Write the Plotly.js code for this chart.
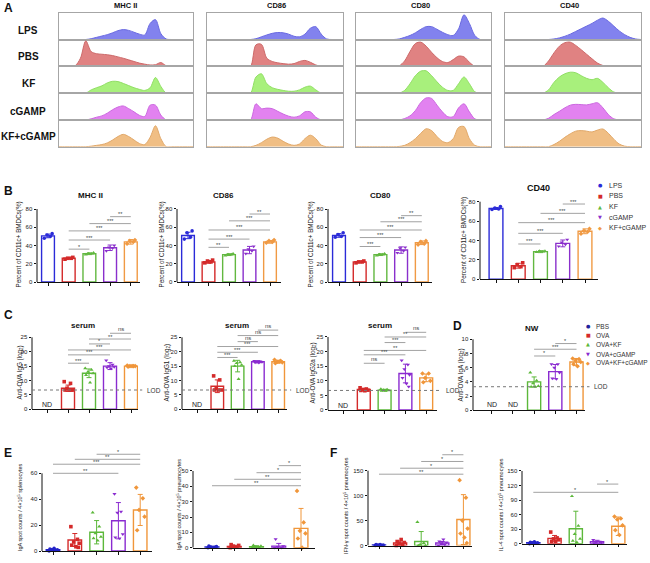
<!DOCTYPE html>
<html><head><meta charset="utf-8">
<script src="https://cdn.plot.ly/plotly-3.0.1.min.js"></script>
<style>html,body{margin:0;padding:0;background:#fff}#chart{width:650px;height:563px}</style>
</head><body><div id="chart"></div>
<script>
const W=650,H=563;
const FONT='Liberation Sans, Arial, sans-serif';

// ===== Panel A: flow histograms (relative heights per bin) =====
const histMarkers=['MHC II','CD86','CD80','CD40'];
const histGroups=['LPS','PBS','KF','cGAMP','KF+cGAMP'];
const histBins=[0,4,8,12,16,20,24,28,32,36,40,44,48,52,56,60,64,68,72,76,80,84,88,92,96,100];
const hMHC_LPS=[0,0,0,0,0,0,0.03,0.08,0.13,0.18,0.25,0.33,0.37,0.34,0.27,0.2,0.17,0.6,0.74,0.22,0.02,0,0,0,0,0];
const hMHC_PBS=[0,0,0,0.02,0.3,0.95,0.55,0.47,0.45,0.43,0.4,0.35,0.3,0.24,0.18,0.12,0.08,0.05,0.06,0.14,0.02,0,0,0,0,0];
const hMHC_KF=[0,0,0,0,0,0,0.12,0.2,0.27,0.38,0.44,0.43,0.36,0.28,0.2,0.14,0.1,0.2,0.58,0.25,0,0,0,0,0,0];
const hMHC_cGAMP=[0,0,0,0,0,0,0.04,0.1,0.15,0.25,0.38,0.48,0.52,0.42,0.3,0.17,0.13,0.55,0.55,0.18,0,0,0,0,0,0];
const hMHC_KFcGAMP=[0,0,0,0,0,0,0.02,0.05,0.08,0.14,0.25,0.38,0.46,0.38,0.25,0.12,0.08,0.35,0.78,0.3,0,0,0,0,0,0];
const hCD86_LPS=[0,0,0,0,0,0,0,0,0,0.03,0.1,0.17,0.23,0.26,0.25,0.2,0.12,0.1,0.2,0.42,0.48,0.2,0.02,0,0,0];
const hCD86_PBS=[0,0,0,0,0,0,0,0,0,0.8,0.82,0.3,0.18,0.13,0.1,0.08,0.1,0.18,0.22,0.15,0.05,0,0,0,0,0];
const hCD86_KF=[0,0,0,0,0,0,0,0,0,0.6,0.72,0.35,0.2,0.14,0.1,0.07,0.07,0.12,0.22,0.26,0.12,0,0,0,0,0];
const hCD86_cGAMP=[0,0,0,0,0,0,0,0,0,0.6,0.42,0.44,0.42,0.32,0.22,0.14,0.1,0.15,0.3,0.3,0.1,0,0,0,0,0];
const hCD86_KFcGAMP=[0,0,0,0,0,0,0,0,0,0.05,0.15,0.28,0.36,0.32,0.2,0.1,0.05,0.1,0.3,0.43,0.3,0.06,0,0,0,0];
const hCD80_LPS=[0,0,0,0,0,0,0,0,0.02,0.08,0.15,0.25,0.38,0.48,0.48,0.38,0.27,0.18,0.15,0.4,0.92,0.6,0.15,0,0,0];
const hCD80_PBS=[0,0,0,0,0,0,0,0,0.02,0.2,0.55,0.85,0.9,0.75,0.52,0.32,0.18,0.14,0.25,0.38,0.35,0.15,0,0,0,0];
const hCD80_KF=[0,0,0,0,0,0,0,0,0,0.1,0.35,0.65,0.82,0.83,0.65,0.42,0.22,0.1,0.1,0.35,0.6,0.35,0.05,0,0,0];
const hCD80_cGAMP=[0,0,0,0,0,0,0,0,0,0.05,0.15,0.35,0.65,0.82,0.8,0.55,0.3,0.12,0.12,0.45,0.6,0.3,0.04,0,0,0];
const hCD80_KFcGAMP=[0,0,0,0,0,0,0,0,0.01,0.05,0.15,0.3,0.5,0.67,0.6,0.38,0.2,0.15,0.3,0.72,0.75,0.3,0.05,0,0,0];
const hCD40_LPS=[0,0,0,0,0,0,0,0,0,0.02,0.06,0.12,0.2,0.3,0.4,0.5,0.6,0.72,0.8,0.68,0.5,0.32,0.18,0.08,0.02,0];
const hCD40_PBS=[0,0,0,0,0,0,0,0,0.2,0.5,0.75,0.88,0.9,0.78,0.62,0.45,0.28,0.12,0.03,0,0,0,0,0,0,0];
const hCD40_KF=[0,0,0,0,0,0,0,0,0.12,0.4,0.6,0.72,0.78,0.76,0.65,0.55,0.5,0.55,0.4,0.2,0.04,0,0,0,0,0];
const hCD40_cGAMP=[0,0,0,0,0,0,0,0,0.06,0.2,0.32,0.45,0.55,0.58,0.57,0.56,0.6,0.64,0.45,0.2,0.04,0,0,0,0,0];
const hCD40_KFcGAMP=[0,0,0,0,0,0,0,0,0,0.08,0.2,0.35,0.48,0.58,0.6,0.58,0.55,0.62,0.66,0.5,0.28,0.1,0.02,0,0,0];

// ===== Panel B: BMDC activation =====
const bGroups=['LPS','PBS','KF','cGAMP','KF+cGAMP'];
const bMHC_mean=[50.5,26,31,37.5,44];
const bMHC_sd=[2,1,1,3,2.5];
const bMHC_pts=[[48,50,51.5,53],[25,26,26,27],[30,31,31,32],[34,37,38,40],[42,44,45,46]];
const bMHC_sig=[[1,2,36,'*'],[1,3,46,'***'],[1,4,56,'***'],[2,4,64,'***'],[3,4,71.6,'**']];
const bCD86_mean=[51,22,30,35,44];
const bCD86_sd=[3.5,1.5,1,4,1.5];
const bCD86_pts=[[47,49,54,56],[21,22,23,24],[29,30,30,31],[31,34,36,39],[43,44,45,46]];
const bCD86_sig=[[1,2,38,'**'],[1,3,47,'***'],[1,4,57,'***'],[2,4,67,'***'],[3,4,74.5,'**']];
const bCD80_mean=[51,22,30,35,43];
const bCD80_sd=[2,1,1,3.5,2];
const bCD80_pts=[[49,50,52,54],[21,22,22,23],[29,30,30,31],[32,34,37,38],[41,42,44,45]];
const bCD80_sig=[[1,2,38.9,'***'],[1,3,48.7,'***'],[1,4,57,'***'],[2,4,66,'***'],[3,4,72.7,'**']];
const bCD40_mean=[73,14,28.5,37,49.5];
const bCD40_sd=[1,2.5,1,3.5,2.5];
const bCD40_pts=[[72,72.5,73.5,75],[12,13,15,17],[28,28.5,29,29],[34,36,38,41],[47,49,50,52]];
const bCD40_sig=[[1,2,36.4,'***'],[1,3,47.4,'***'],[1,4,58.4,'***'],[2,4,68,'***'],[3,4,77.6,'***']];

// ===== Panels C-F: immunisation =====
const cGroups=['PBS','OVA','OVA+KF','OVA+cGAMP','OVA+KF+cGAMP'];
const cIgG_mean=[null,7.3,12.5,15,15];
const cIgG_sd=[null,1.1,1.5,1.2,0.3];
const cIgG_pts=[[],[9.6,9,7.3,6.7,6.7,6.7,6.7],[14.2,13.7,13,12.5,11.9,9.3],[17,15.5,15,14.7,14.5,14.2],[15.2,15,15,15,14.8,15]];
const cIgG_sig=[[1,2,16,'***'],[1,3,18.9,'***'],[1,4,20.6,'***'],[2,3,22.7,'*'],[2,4,24.4,'**'],[3,4,26.4,'ns']];
const cIgG1_mean=[null,8,15,16.5,16.5];
const cIgG1_sd=[null,2.2,2,0.4,0.5];
const cIgG1_pts=[[],[11.6,10.2,7.3,6.7,6.7,6.7],[16.8,16.3,16,15.4,15,10.5],[16.8,16.6,16.5,16.4,16.3,16.2],[17.2,16.8,16.5,16.3,16,16.6]];
const cIgG1_sig=[[1,2,18,'***'],[1,3,19.8,'***'],[1,4,21.8,'***'],[2,3,23.5,'ns'],[2,4,25.6,'ns'],[3,4,27.5,'ns']];
const cIgG2a_mean=[null,7,6.8,12.5,11];
const cIgG2a_sd=[null,0.4,0.3,3.2,1.3];
const cIgG2a_pts=[[],[7.6,7.2,7,6.8,6.7,6.6],[7.2,7,6.8,6.7,6.6,6.6],[17,15.5,14,12,11,9,8],[12.5,12.5,11,10,9.5]];
const cIgG2a_sig=[[1,2,16,'ns'],[1,3,18.9,'***'],[1,4,20.4,'**'],[2,3,23.1,'***'],[2,4,25,'**'],[3,4,26.6,'ns']];
const serumLOD=6.7;
const dIgA_mean=[null,null,4,5.45,6.8];
const dIgA_sd=[null,null,0.7,1,0.5];
const dIgA_pts=[[],[],[5.3,4.2,3.8,3.4,3.3,3.3],[6.5,6.5,6,5.3,4.5,4.4],[7.3,7.2,7,6.8,6.5,6.2]];
const dIgA_sig=[[2,3,7.65,'*'],[2,4,8.6,'***'],[3,4,9.4,'*']];
const nwLOD=3.32;
const eSpl_mean=[1,8.5,14.5,23.4,31.7];
const eSpl_sd=[0.8,5,9,14,12];
const eSpl_pts=[[0,0.5,1,1,1.5,2],[18.8,9,7,6,4.5,3.3,2.8],[29.6,18.8,13.6,11,9.8,8],[44,30.4,29.6,13,10.5,9.8],[49,40.7,31.7,26.5,16]];
const eSpl_sig=[[0,3,60,'**'],[0,4,67,'***'],[1,4,70.8,'**'],[2,4,74.7,'*']];
const ePneu_mean=[0.5,0.8,0.6,1,12.6];
const ePneu_sd=[0.5,0.8,0.7,1.8,13];
const ePneu_pts=[[0,0.3,0.5,0.8,1],[0,0.5,1,1.5,2],[0,0.3,0.5,1,1.5],[0,0,0.5,1,5.6],[37,16.5,11,9.3,6,0]];
const ePneu_sig=[[0,4,40.4,'**'],[1,4,44.6,'**'],[2,4,48.9,'*'],[3,4,53.5,'*']];
const fIFN_mean=[1,5,8,5,52];
const fIFN_sd=[1,4,20,3,50];
const fIFN_pts=[[0,0.5,1,1,2,2],[0,2,4,6,8,12],[47,5,2,0,0],[0,2,4,6,8,12],[131,96,50,34,24,16,5]];
const fIFN_sig=[[0,4,143,'**'],[1,4,155,'*'],[2,4,168.5,'*'],[3,4,182,'*']];
const fIL4_mean=[2,11,31,4,36];
const fIL4_sd=[1,6,36,3,19];
const fIL4_pts=[[0,1,2,2,3,4],[24,12,10,8,5,5],[98,37,20,10,6,3],[8,4,3,2,1],[56,52,50,38,28,18]];
const fIL4_sig=[[0,4,106,'*'],[3,4,123,'*']];

// ===== styles =====
const histFill=['#8282ee','#e08282','#a8f07c','#e282f0','#f0be84'];
const histLine=['#6a6ae0','#cc6a6a','#90de64','#cc68e0','#e0a86a'];
const barColB=['#2b2bd8','#d42a2a','#62b840','#8a2fcc','#f09a44'];
const barColC=['#2323c8','#d42a2a','#5cb83a','#8a2bd0','#f0963a'];
const symB=['circle','square','triangle-up','triangle-down','diamond'];
const glyphB=['●','■','▲','▼','◆'];
const jitter=[-0.18,0.12,-0.05,0.2,-0.14,0.05,0.16];

const traces=[],shapes=[],annos=[];
const layout={width:W,height:H,margin:{l:0,r:0,t:0,b:0},paper_bgcolor:'#fff',plot_bgcolor:'rgba(0,0,0,0)',
  showlegend:false,barmode:'overlay',font:{family:FONT,size:7,color:'#222'}};
let axN=0;
function newAxes(){axN++;const s=axN===1?'':String(axN);return {xa:'x'+s,ya:'y'+s,xk:'xaxis'+s,yk:'yaxis'+s};}
function txt(x,y,text,o){annos.push(Object.assign({xref:'paper',yref:'paper',x:x/W,y:1-y/H,text:text,showarrow:false,
  xanchor:'center',yanchor:'middle',font:{family:FONT,size:7,color:'#222'}},o||{}));}

// ---- Panel A ----
const histData=[
  [hMHC_LPS,hMHC_PBS,hMHC_KF,hMHC_cGAMP,hMHC_KFcGAMP],
  [hCD86_LPS,hCD86_PBS,hCD86_KF,hCD86_cGAMP,hCD86_KFcGAMP],
  [hCD80_LPS,hCD80_PBS,hCD80_KF,hCD80_cGAMP,hCD80_KFcGAMP],
  [hCD40_LPS,hCD40_PBS,hCD40_KF,hCD40_cGAMP,hCD40_KFcGAMP]];
const histBox=[[59,193],[207,343],[356,491],[505,641]];
const histTitleX=[125,276,420,569];
const rowTop=12.7,rowH=26.8;
histMarkers.forEach((m,mi)=>{
  txt(histTitleX[mi],5,'<b>'+m+'</b>',{font:{family:FONT,size:7.5,color:'#111'}});
  histGroups.forEach((g,gi)=>{
    const a=newAxes();
    const top=rowTop+gi*rowH,bot=top+rowH;
    layout[a.xk]={domain:[histBox[mi][0]/W,histBox[mi][1]/W],range:[0,100],anchor:a.ya,showline:true,mirror:true,
      linecolor:'#a6a6a6',linewidth:1,showticklabels:false,ticks:'',showgrid:false,zeroline:false};
    layout[a.yk]={domain:[1-bot/H,1-top/H],range:[0,1],anchor:a.xa,showline:true,mirror:true,
      linecolor:'#a6a6a6',linewidth:1,showticklabels:false,ticks:'',showgrid:false,zeroline:false};
    traces.push({type:'scatter',mode:'lines',x:histBins,y:histData[mi][gi],xaxis:a.xa,yaxis:a.ya,
      line:{shape:'spline',smoothing:0.9,color:histLine[gi],width:1},fill:'tozeroy',fillcolor:histFill[gi],hoverinfo:'skip'});
  });
});
const rowLabelY=[30,56.7,83.3,111,136.7];
histGroups.forEach((g,gi)=>txt(28,rowLabelY[gi],'<b>'+g+'</b>',{font:{family:FONT,size:10,color:'#111'}}));

// ---- bar panels ----
function barPanel(p){
  const a=newAxes();
  const ppu=(p.zero-p.tickPix)/p.tickMax;
  const maxSig=Math.max(...p.sig.map(s=>s[2]));
  const ymax=Math.max(p.tickMax*1.02,maxSig+p.tickMax*0.09);
  layout[a.xk]={domain:[p.L/W,p.R/W],range:[(p.L-p.c0)/p.s,(p.R-p.c0)/p.s],anchor:a.ya,showline:true,linecolor:'#111',linewidth:1,
    ticks:'outside',ticklen:2.5,tickwidth:1,tickcolor:'#111',tickvals:[0,1,2,3,4],showticklabels:false,showgrid:false,zeroline:false};
  layout[a.yk]={domain:[1-p.zero/H,Math.min(1,1-(p.zero-ymax*ppu)/H)],range:[0,ymax],anchor:a.xa,showline:false,
    ticks:'outside',ticklen:2.5,tickwidth:1,tickcolor:'#111',tickvals:p.ticks,tickfont:{family:FONT,size:6,color:'#222'},
    showgrid:false,zeroline:false};
  shapes.push({type:'line',xref:a.xa+' domain',yref:a.ya,x0:0,x1:0,y0:0,y1:p.tickMax,line:{color:'#111',width:1}});
  for(let i=0;i<5;i++){
    if(p.mean[i]===null){
      annos.push({xref:a.xa,yref:a.ya,x:i,y:p.ndY,xanchor:'center',yanchor:'middle',text:'ND',showarrow:false,font:{family:FONT,size:7,color:'#222'}});
      continue;
    }
    traces.push({type:'bar',x:[i],y:[p.mean[i]],xaxis:a.xa,yaxis:a.ya,width:0.62,
      marker:{color:'rgba(255,255,255,0)',line:{color:p.colors[i],width:1.4}},
      error_y:{type:'data',array:[p.sd[i]],visible:true,thickness:1,width:2.5,color:p.colors[i]},hoverinfo:'skip'});
    const pts=p.pts[i];
    traces.push({type:'scatter',mode:'markers',x:pts.map((v,k)=>i+jitter[k%jitter.length]),y:pts,xaxis:a.xa,yaxis:a.ya,
      marker:{symbol:symB[i],size:3.6,color:p.colors[i]},hoverinfo:'skip',cliponaxis:false});
  }
  p.sig.forEach(s=>{
    shapes.push({type:'line',xref:a.xa,yref:a.ya,x0:s[0],x1:s[1],y0:s[2],y1:s[2],line:{color:'#8a8a8a',width:0.8}});
    annos.push({xref:a.xa,yref:a.ya,x:(s[0]+s[1])/2,y:s[2],xanchor:'center',yanchor:'bottom',yshift:s[3]==='ns'?-1:-2.5,text:s[3],showarrow:false,
      font:{family:FONT,size:s[3]==='ns'?6:5.5,color:'#444'}});
  });
  if(p.lod!==undefined){
    shapes.push({type:'line',xref:a.xa+' domain',yref:a.ya,x0:0,x1:1.04,y0:p.lod,y1:p.lod,line:{color:'#777',width:1,dash:'dot'}});
    annos.push({xref:a.xa+' domain',yref:a.ya,x:1.065,y:p.lod,xanchor:'left',yanchor:'middle',text:'LOD',showarrow:false,font:{family:FONT,size:6.5,color:'#333'}});
  }
}
const t80=[0,20,40,60,80],t25=[0,5,10,15,20,25];
barPanel({L:37,R:140,c0:48,s:20.7,zero:282,tickPix:209,tickMax:80,ticks:t80,mean:bMHC_mean,sd:bMHC_sd,pts:bMHC_pts,sig:bMHC_sig,colors:barColB});
barPanel({L:177,R:281,c0:188,s:20.5,zero:282,tickPix:209,tickMax:80,ticks:t80,mean:bCD86_mean,sd:bCD86_sd,pts:bCD86_pts,sig:bCD86_sig,colors:barColB});
barPanel({L:328,R:432,c0:339,s:20.7,zero:282,tickPix:209,tickMax:80,ticks:t80,mean:bCD80_mean,sd:bCD80_sd,pts:bCD80_pts,sig:bCD80_sig,colors:barColB});
barPanel({L:480,R:598,c0:496,s:22.25,zero:279.3,tickPix:201.7,tickMax:80,ticks:t80,mean:bCD40_mean,sd:bCD40_sd,pts:bCD40_pts,sig:bCD40_sig,colors:barColB});
barPanel({L:32,R:138,c0:47,s:21,zero:409.3,tickPix:337.3,tickMax:25,ticks:t25,mean:cIgG_mean,sd:cIgG_sd,pts:cIgG_pts,sig:cIgG_sig,colors:barColC,lod:serumLOD,ndY:1.6});
barPanel({L:182,R:287,c0:197,s:20.3,zero:409.3,tickPix:337.3,tickMax:25,ticks:t25,mean:cIgG1_mean,sd:cIgG1_sd,pts:cIgG1_pts,sig:cIgG1_sig,colors:barColC,lod:serumLOD,ndY:1.6});
barPanel({L:328,R:437,c0:343,s:20.8,zero:410,tickPix:337,tickMax:25,ticks:t25,mean:cIgG2a_mean,sd:cIgG2a_sd,pts:cIgG2a_pts,sig:cIgG2a_sig,colors:barColC,lod:serumLOD,ndY:1.6});
barPanel({L:473,R:585,c0:491.7,s:21.2,zero:410.3,tickPix:339.3,tickMax:10,ticks:[0,2,4,6,8,10],mean:dIgA_mean,sd:dIgA_sd,pts:dIgA_pts,sig:dIgA_sig,colors:barColC,lod:nwLOD,ndY:0.8});
barPanel({L:42,R:152,c0:53,s:21.8,zero:551,tickPix:473.3,tickMax:60,ticks:[0,20,40,60],mean:eSpl_mean,sd:eSpl_sd,pts:eSpl_pts,sig:eSpl_sig,colors:barColC});
barPanel({L:193,R:315,c0:212,s:22.25,zero:547.7,tickPix:471,tickMax:50,ticks:[0,10,20,30,40,50],mean:ePneu_mean,sd:ePneu_sd,pts:ePneu_pts,sig:ePneu_sig,colors:barColC});
barPanel({L:368,R:472,c0:379,s:21.1,zero:545.5,tickPix:470.7,tickMax:150,ticks:[0,50,100,150],mean:fIFN_mean,sd:fIFN_sd,pts:fIFN_pts,sig:fIFN_sig,colors:barColC});
barPanel({L:522,R:627,c0:533.3,s:21.25,zero:543.7,tickPix:471,tickMax:150,ticks:[0,30,60,90,120,150],mean:fIL4_mean,sd:fIL4_sd,pts:fIL4_pts,sig:fIL4_sig,colors:barColC});

// ---- titles / labels ----
[['A',8],['B',191],['C',315],['E',453]].forEach(l=>txt(2,l[1],'<b>'+l[0]+'</b>',{xanchor:'left',font:{family:FONT,size:12,color:'#111'}}));
txt(451,326,'<b>D</b>',{xanchor:'left',font:{family:FONT,size:12,color:'#111'}});
txt(328,453,'<b>F</b>',{xanchor:'left',font:{family:FONT,size:12,color:'#111'}});
txt(90,196,'<b>MHC II</b>',{font:{family:FONT,size:8,color:'#111'}});
txt(223,196,'<b>CD86</b>',{font:{family:FONT,size:8,color:'#111'}});
txt(380,196,'<b>CD80</b>',{font:{family:FONT,size:8,color:'#111'}});
txt(538,188,'<b>CD40</b>',{font:{family:FONT,size:9,color:'#111'}});
[83,237,380].forEach(x=>txt(x,325,'<b>serum</b>',{font:{family:FONT,size:8,color:'#111'}}));
txt(532,328,'<b>NW</b>',{font:{family:FONT,size:8,color:'#111'}});
const ylab=(x,y,t,sz)=>txt(x,y,t,{textangle:-90,font:{family:FONT,size:sz||6.3,color:'#222'}});
[18.5,161.5,310.5].forEach(x=>ylab(x,245,'Percent of CD11c+ BMDCs(%)'));
ylab(464,240,'Percent of CD11c+ BMDCs(%)');
ylab(19.5,373,'Anti-OVA IgG (log<sub>2</sub>)');
ylab(166.5,373,'Anti-OVA IgG1 (log<sub>2</sub>)');
ylab(312.5,373,'Anti-OVA IgG2a (log<sub>2</sub>)');
ylab(460.5,375,'Anti-OVA IgA (log<sub>2</sub>)');
ylab(20,507,'IgA spot counts / 4×10<sup>5</sup> splenocytes',5.5);
ylab(179,505,'IgA spot counts / 4×10<sup>5</sup> pneumocytes',5.5);
ylab(346,505,'IFN-γ spot counts / 4×10<sup>5</sup> pneumocytes',5.5);
ylab(501,505,'IL-4 spot counts / 4×10<sup>5</sup> pneumocytes',5.5);

// ---- legends ----
const legB_y=[185,196,206.7,217.3,227.7];
bGroups.forEach((g,i)=>{
  txt(600,legB_y[i],glyphB[i],{font:{family:'DejaVu Sans',size:5,color:barColB[i]}});
  txt(607,legB_y[i],g,{xanchor:'left',font:{family:FONT,size:7,color:'#333'}});
});
const legD_y=[326,335.3,344.3,354,362.7];
const legDcol=['#22229a','#d42a2a','#5cb83a','#8a2bd0','#f0963a'];
cGroups.forEach((g,i)=>{
  txt(588,legD_y[i],glyphB[i],{font:{family:'DejaVu Sans',size:5,color:legDcol[i]}});
  txt(594,legD_y[i],g,{xanchor:'left',font:{family:FONT,size:6.5,color:'#333'}});
});

layout.shapes=shapes;layout.annotations=annos;
Plotly.newPlot('chart',traces,layout,{staticPlot:true,displayModeBar:false});
</script></body></html>
